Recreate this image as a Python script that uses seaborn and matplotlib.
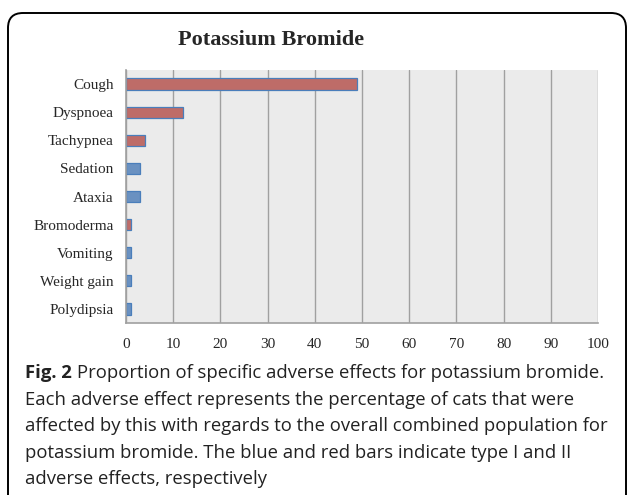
import numpy as np
import pandas as pd
import matplotlib
matplotlib.use("Agg")
import matplotlib.pyplot as plt
from matplotlib.patches import FancyBboxPatch
import seaborn as sns

# Data (percent of cats)
effects = ["Cough", "Dyspnoea", "Tachypnea", "Sedation", "Ataxia",
           "Bromoderma", "Vomiting", "Weight gain", "Polydipsia"]
percent = [49, 12, 4, 3, 3, 1, 1, 1, 1]
effect_type = ["II", "II", "II", "I", "I", "II", "I", "I", "I"]
x_ticks = [0, 10, 20, 30, 40, 50, 60, 70, 80, 90, 100]

df = pd.DataFrame({"effect": effects, "percent": percent, "type": effect_type})

sns.set_style("white")
plt.rcParams["font.family"] = ["Liberation Serif", "DejaVu Serif"]

fig = plt.figure(figsize=(6.27, 4.95), dpi=100)
ax = fig.add_axes([126 / 627, 1 - 323 / 495, 472 / 627, 253 / 495])

palette = {"I": "#5b8fcf", "II": "#cc5f5a"}
sns.barplot(data=df, x="percent", y="effect", hue="type", order=effects,
            palette=palette, dodge=False, width=0.4, orient="h",
            edgecolor="#4a7ebb", linewidth=0.9, legend=False, ax=ax)

ax.set_facecolor("#ebebeb")
ax.set_xlim(0, 100)
ax.set_ylim(len(effects) - 0.5, -0.5)
ax.set_xticks(x_ticks)
ax.xaxis.grid(True, color="#a0a0a0", linewidth=1.0)
ax.set_axisbelow(True)
ax.set_xlabel("")
ax.set_ylabel("")

# Excel-like tick marks between categories
ax.set_yticks(np.arange(-0.5, len(effects), 1.0), minor=True)
ax.tick_params(axis="y", which="major", length=0, pad=9, labelsize=11)
ax.tick_params(axis="y", which="minor", length=4, color="#909090", width=1)
ax.tick_params(axis="x", length=3, color="#909090", width=1, pad=8, labelsize=11)

for side in ["top", "right"]:
    ax.spines[side].set_visible(False)
for side in ["left", "bottom"]:
    ax.spines[side].set_color("#a0a0a0")
    ax.spines[side].set_linewidth(1.2)

fig.text(271 / 627, 1 - 40 / 495, "Potassium Bromide", ha="center", va="center",
         fontsize=16, fontweight="bold")

# rounded frame around the panel (inches), bottom runs off the image
pad = 0.15
frame = FancyBboxPatch((0.08 + pad, -0.3 + pad), 6.18 - 2 * pad, 5.12 - 2 * pad,
                       boxstyle="round,pad=%g" % pad, transform=fig.dpi_scale_trans,
                       facecolor="none", edgecolor="black", linewidth=1.4)
fig.patches.append(frame)

# caption
cap_font = ["Open Sans", "DejaVu Sans"]
cap_size = 13.3
cap_color = "#222222"
fig_lbl = fig.text(25 / 627, 1 - 373 / 495, "Fig. 2", ha="left", va="center",
                   fontsize=cap_size, fontweight="bold", family=cap_font, color=cap_color)
fig.canvas.draw()
bb = fig_lbl.get_window_extent()
fig.text(bb.x1 / 627 + 5 / 627, 1 - 373 / 495,
         "Proportion of specific adverse effects for potassium bromide.",
         ha="left", va="center", fontsize=cap_size, family=cap_font, color=cap_color)
lines = ["Each adverse effect represents the percentage of cats that were",
         "affected by this with regards to the overall combined population for",
         "potassium bromide. The blue and red bars indicate type I and II",
         "adverse effects, respectively"]
for i, line in enumerate(lines):
    fig.text(25 / 627, 1 - (400 + 26.3 * i) / 495, line, ha="left", va="center",
             fontsize=cap_size, family=cap_font, color=cap_color)

fig.savefig("out.png", dpi=100)
